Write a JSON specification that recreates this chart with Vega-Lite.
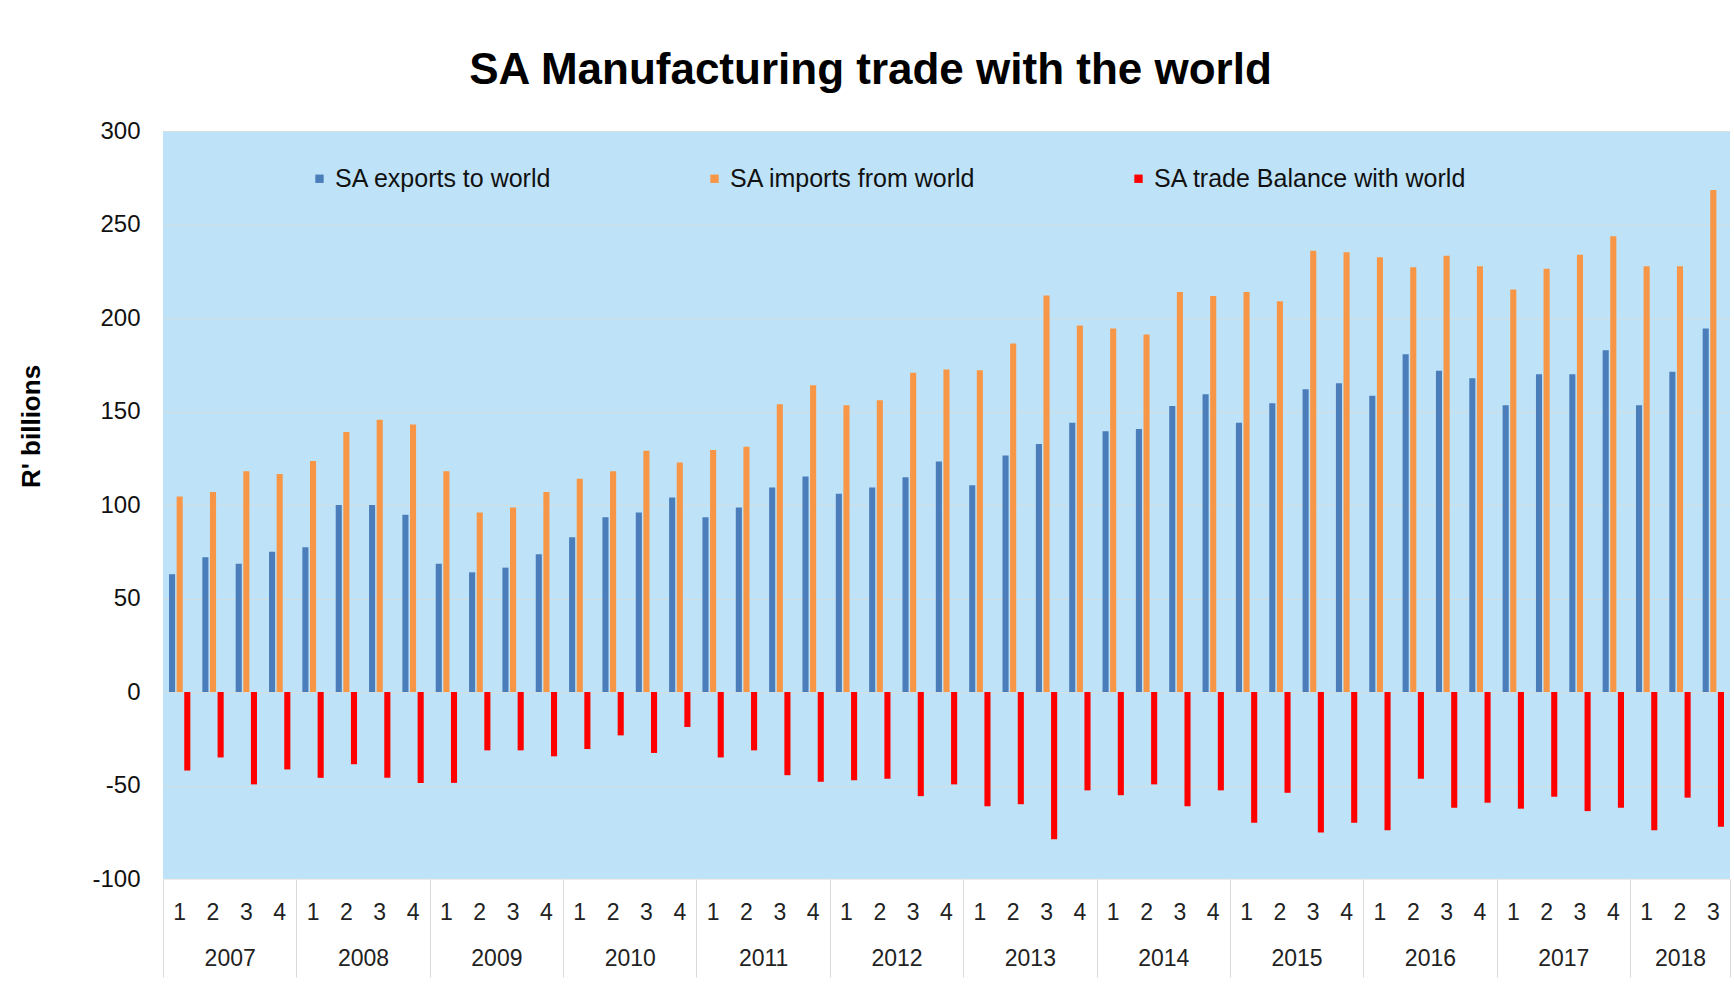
{
  "$schema": "https://vega.github.io/schema/vega-lite/v6.json",
  "autosize": "none",
  "width": 1567,
  "height": 748,
  "padding": {"left": 163, "top": 131, "right": 4, "bottom": 107},
  "background": "white",
  "title": {
    "text": "SA Manufacturing trade with the world",
    "font": "Liberation Sans",
    "fontSize": 44,
    "fontWeight": "bold",
    "color": "#000000",
    "anchor": "middle",
    "dx": -76,
    "offset": 26
  },
  "config": {
    "view": {"fill": "#BEE3F8", "stroke": null},
    "font": "Liberation Sans"
  },
  "resolve": {"scale": {"x": "independent"}, "axis": {"x": "independent"}},
  "layer": [
    {
      "data": {"values": [
        {"p":"2007-1","s":"SA exports to world","v":63},{"p":"2007-1","s":"SA imports from world","v":104.6},{"p":"2007-1","s":"SA trade Balance with world","v":-42},
        {"p":"2007-2","s":"SA exports to world","v":72},{"p":"2007-2","s":"SA imports from world","v":107},{"p":"2007-2","s":"SA trade Balance with world","v":-35},
        {"p":"2007-3","s":"SA exports to world","v":68.6},{"p":"2007-3","s":"SA imports from world","v":118},{"p":"2007-3","s":"SA trade Balance with world","v":-49.4},
        {"p":"2007-4","s":"SA exports to world","v":75},{"p":"2007-4","s":"SA imports from world","v":116.6},{"p":"2007-4","s":"SA trade Balance with world","v":-41.4},
        {"p":"2008-1","s":"SA exports to world","v":77.4},{"p":"2008-1","s":"SA imports from world","v":123.5},{"p":"2008-1","s":"SA trade Balance with world","v":-45.9},
        {"p":"2008-2","s":"SA exports to world","v":100},{"p":"2008-2","s":"SA imports from world","v":139},{"p":"2008-2","s":"SA trade Balance with world","v":-38.7},
        {"p":"2008-3","s":"SA exports to world","v":100},{"p":"2008-3","s":"SA imports from world","v":145.6},{"p":"2008-3","s":"SA trade Balance with world","v":-45.9},
        {"p":"2008-4","s":"SA exports to world","v":94.8},{"p":"2008-4","s":"SA imports from world","v":143},{"p":"2008-4","s":"SA trade Balance with world","v":-48.6},
        {"p":"2009-1","s":"SA exports to world","v":68.6},{"p":"2009-1","s":"SA imports from world","v":118},{"p":"2009-1","s":"SA trade Balance with world","v":-48.6},
        {"p":"2009-2","s":"SA exports to world","v":64},{"p":"2009-2","s":"SA imports from world","v":96},{"p":"2009-2","s":"SA trade Balance with world","v":-31.2},
        {"p":"2009-3","s":"SA exports to world","v":66.5},{"p":"2009-3","s":"SA imports from world","v":98.7},{"p":"2009-3","s":"SA trade Balance with world","v":-31.2},
        {"p":"2009-4","s":"SA exports to world","v":73.7},{"p":"2009-4","s":"SA imports from world","v":107},{"p":"2009-4","s":"SA trade Balance with world","v":-34.4},
        {"p":"2010-1","s":"SA exports to world","v":82.8},{"p":"2010-1","s":"SA imports from world","v":114},{"p":"2010-1","s":"SA trade Balance with world","v":-30.5},
        {"p":"2010-2","s":"SA exports to world","v":93.4},{"p":"2010-2","s":"SA imports from world","v":118},{"p":"2010-2","s":"SA trade Balance with world","v":-23.2},
        {"p":"2010-3","s":"SA exports to world","v":96},{"p":"2010-3","s":"SA imports from world","v":129},{"p":"2010-3","s":"SA trade Balance with world","v":-32.6},
        {"p":"2010-4","s":"SA exports to world","v":104},{"p":"2010-4","s":"SA imports from world","v":122.7},{"p":"2010-4","s":"SA trade Balance with world","v":-18.7},
        {"p":"2011-1","s":"SA exports to world","v":93.4},{"p":"2011-1","s":"SA imports from world","v":129.4},{"p":"2011-1","s":"SA trade Balance with world","v":-35},
        {"p":"2011-2","s":"SA exports to world","v":98.7},{"p":"2011-2","s":"SA imports from world","v":131.2},{"p":"2011-2","s":"SA trade Balance with world","v":-31.2},
        {"p":"2011-3","s":"SA exports to world","v":109.4},{"p":"2011-3","s":"SA imports from world","v":153.9},{"p":"2011-3","s":"SA trade Balance with world","v":-44.5},
        {"p":"2011-4","s":"SA exports to world","v":115.3},{"p":"2011-4","s":"SA imports from world","v":164},{"p":"2011-4","s":"SA trade Balance with world","v":-48},
        {"p":"2012-1","s":"SA exports to world","v":106},{"p":"2012-1","s":"SA imports from world","v":153.4},{"p":"2012-1","s":"SA trade Balance with world","v":-47.2},
        {"p":"2012-2","s":"SA exports to world","v":109.4},{"p":"2012-2","s":"SA imports from world","v":156},{"p":"2012-2","s":"SA trade Balance with world","v":-46.4},
        {"p":"2012-3","s":"SA exports to world","v":114.8},{"p":"2012-3","s":"SA imports from world","v":170.7},{"p":"2012-3","s":"SA trade Balance with world","v":-55.7},
        {"p":"2012-4","s":"SA exports to world","v":123.3},{"p":"2012-4","s":"SA imports from world","v":172.5},{"p":"2012-4","s":"SA trade Balance with world","v":-49.4},
        {"p":"2013-1","s":"SA exports to world","v":110.5},{"p":"2013-1","s":"SA imports from world","v":172},{"p":"2013-1","s":"SA trade Balance with world","v":-61.1},
        {"p":"2013-2","s":"SA exports to world","v":126.5},{"p":"2013-2","s":"SA imports from world","v":186.4},{"p":"2013-2","s":"SA trade Balance with world","v":-60},
        {"p":"2013-3","s":"SA exports to world","v":132.6},{"p":"2013-3","s":"SA imports from world","v":212},{"p":"2013-3","s":"SA trade Balance with world","v":-78.7},
        {"p":"2013-4","s":"SA exports to world","v":144},{"p":"2013-4","s":"SA imports from world","v":196},{"p":"2013-4","s":"SA trade Balance with world","v":-52.6},
        {"p":"2014-1","s":"SA exports to world","v":139.5},{"p":"2014-1","s":"SA imports from world","v":194.4},{"p":"2014-1","s":"SA trade Balance with world","v":-55.2},
        {"p":"2014-2","s":"SA exports to world","v":140.6},{"p":"2014-2","s":"SA imports from world","v":191.2},{"p":"2014-2","s":"SA trade Balance with world","v":-49.4},
        {"p":"2014-3","s":"SA exports to world","v":153},{"p":"2014-3","s":"SA imports from world","v":213.9},{"p":"2014-3","s":"SA trade Balance with world","v":-61.1},
        {"p":"2014-4","s":"SA exports to world","v":159.2},{"p":"2014-4","s":"SA imports from world","v":211.7},{"p":"2014-4","s":"SA trade Balance with world","v":-52.6},
        {"p":"2015-1","s":"SA exports to world","v":144},{"p":"2015-1","s":"SA imports from world","v":213.9},{"p":"2015-1","s":"SA trade Balance with world","v":-69.9},
        {"p":"2015-2","s":"SA exports to world","v":154.4},{"p":"2015-2","s":"SA imports from world","v":209},{"p":"2015-2","s":"SA trade Balance with world","v":-53.9},
        {"p":"2015-3","s":"SA exports to world","v":161.9},{"p":"2015-3","s":"SA imports from world","v":236},{"p":"2015-3","s":"SA trade Balance with world","v":-75.2},
        {"p":"2015-4","s":"SA exports to world","v":165.1},{"p":"2015-4","s":"SA imports from world","v":235.2},{"p":"2015-4","s":"SA trade Balance with world","v":-69.9},
        {"p":"2016-1","s":"SA exports to world","v":158.4},{"p":"2016-1","s":"SA imports from world","v":232.5},{"p":"2016-1","s":"SA trade Balance with world","v":-73.9},
        {"p":"2016-2","s":"SA exports to world","v":180.6},{"p":"2016-2","s":"SA imports from world","v":227.2},{"p":"2016-2","s":"SA trade Balance with world","v":-46.4},
        {"p":"2016-3","s":"SA exports to world","v":171.8},{"p":"2016-3","s":"SA imports from world","v":233.3},{"p":"2016-3","s":"SA trade Balance with world","v":-61.9},
        {"p":"2016-4","s":"SA exports to world","v":167.8},{"p":"2016-4","s":"SA imports from world","v":227.7},{"p":"2016-4","s":"SA trade Balance with world","v":-59.2},
        {"p":"2017-1","s":"SA exports to world","v":153.4},{"p":"2017-1","s":"SA imports from world","v":215.2},{"p":"2017-1","s":"SA trade Balance with world","v":-62.4},
        {"p":"2017-2","s":"SA exports to world","v":169.9},{"p":"2017-2","s":"SA imports from world","v":226.4},{"p":"2017-2","s":"SA trade Balance with world","v":-56},
        {"p":"2017-3","s":"SA exports to world","v":169.9},{"p":"2017-3","s":"SA imports from world","v":233.8},{"p":"2017-3","s":"SA trade Balance with world","v":-63.7},
        {"p":"2017-4","s":"SA exports to world","v":182.7},{"p":"2017-4","s":"SA imports from world","v":243.7},{"p":"2017-4","s":"SA trade Balance with world","v":-61.9},
        {"p":"2018-1","s":"SA exports to world","v":153.4},{"p":"2018-1","s":"SA imports from world","v":227.7},{"p":"2018-1","s":"SA trade Balance with world","v":-73.9},
        {"p":"2018-2","s":"SA exports to world","v":171.2},{"p":"2018-2","s":"SA imports from world","v":227.7},{"p":"2018-2","s":"SA trade Balance with world","v":-56.5},
        {"p":"2018-3","s":"SA exports to world","v":194.4},{"p":"2018-3","s":"SA imports from world","v":268.4},{"p":"2018-3","s":"SA trade Balance with world","v":-72}
      ]},
      "mark": {"type": "bar"},
      "encoding": {
        "x": {
          "field": "p", "type": "ordinal", "sort": null,
          "scale": {"paddingInner": 0.36, "paddingOuter": 0.18},
          "axis": {
            "orient": "bottom", "title": null, "labelAngle": 0,
            "labelExpr": "split(datum.value, '-')[1]",
            "ticks": false, "tickSize": 0, "domain": false, "grid": false,
            "labelFontSize": 23, "labelColor": "#222222", "labelFont": "Liberation Sans",
            "labelBaseline": "middle", "labelPadding": 33
          }
        },
        "xOffset": {
          "field": "s", "type": "nominal",
          "sort": ["SA exports to world", "SA imports from world", "SA trade Balance with world"],
          "scale": {"paddingInner": 0.2}
        },
        "y": {
          "field": "v", "type": "quantitative",
          "scale": {"domain": [-100, 300], "nice": false, "zero": false},
          "axis": {
            "values": [-100, -50, 0, 50, 100, 150, 200, 250, 300],
            "labelExpr": "'' + datum.value",
            "ticks": false, "domain": false,
            "grid": true, "gridColor": "#E6DDCF", "gridOpacity": 0.55,
            "labelFontSize": 24, "labelColor": "#111111", "labelPadding": 23,
            "title": "R' billions", "titleFontSize": 26, "titleFontWeight": "bold",
            "titleColor": "#000000", "titleX": -124, "titleY": 295,
            "titleBaseline": "alphabetic", "titleAngle": -90
          }
        },
        "color": {
          "field": "s", "type": "nominal",
          "scale": {
            "domain": ["SA exports to world", "SA imports from world", "SA trade Balance with world"],
            "range": ["#4A7DBA", "#F79646", "#FF0000"]
          },
          "legend": {
            "orient": "none", "direction": "horizontal", "title": null,
            "legendX": 144, "legendY": 35,
            "symbolType": "square", "symbolSize": 70, "symbolStrokeWidth": 0,
            "labelFontSize": 25, "labelColor": "#111111", "labelOffset": 3,
            "columnPadding": 150, "labelLimit": 400
          }
        }
      }
    },
    {
      "data": {"values": [
        {"year": "2007", "c": 2}, {"year": "2008", "c": 6}, {"year": "2009", "c": 10},
        {"year": "2010", "c": 14}, {"year": "2011", "c": 18}, {"year": "2012", "c": 22},
        {"year": "2013", "c": 26}, {"year": "2014", "c": 30}, {"year": "2015", "c": 34},
        {"year": "2016", "c": 38}, {"year": "2017", "c": 42}, {"year": "2018", "c": 45.5}
      ]},
      "mark": {"type": "point", "opacity": 0},
      "encoding": {
        "x": {
          "field": "c", "type": "quantitative",
          "scale": {"domain": [0, 47], "nice": false, "zero": false},
          "axis": {
            "orient": "bottom", "title": null,
            "values": [2, 6, 10, 14, 18, 22, 26, 30, 34, 38, 42, 45.5],
            "labelExpr": "floor(datum.value / 4) + 2007",
            "ticks": false, "tickSize": 0, "domain": false, "grid": false,
            "labelFontSize": 23, "labelColor": "#222222",
            "labelBaseline": "middle", "labelPadding": 79, "labelFlush": false
          }
        },
        "y": {"datum": 0, "type": "quantitative"}
      }
    },
    {
      "data": {"values": [
        {"b": 0}, {"b": 4}, {"b": 8}, {"b": 12}, {"b": 16}, {"b": 20}, {"b": 24},
        {"b": 28}, {"b": 32}, {"b": 36}, {"b": 40}, {"b": 44}, {"b": 47}
      ]},
      "mark": {"type": "point", "opacity": 0},
      "encoding": {
        "x": {
          "field": "b", "type": "quantitative",
          "scale": {"domain": [0, 47], "nice": false, "zero": false},
          "axis": {
            "orient": "bottom", "title": null,
            "values": [0, 4, 8, 12, 16, 20, 24, 28, 32, 36, 40, 44, 47],
            "labels": false, "domain": false, "grid": false,
            "ticks": true, "tickSize": 98, "tickColor": "#D9D9D9", "tickWidth": 1
          }
        },
        "y": {"datum": 0, "type": "quantitative"}
      }
    }
  ]
}
